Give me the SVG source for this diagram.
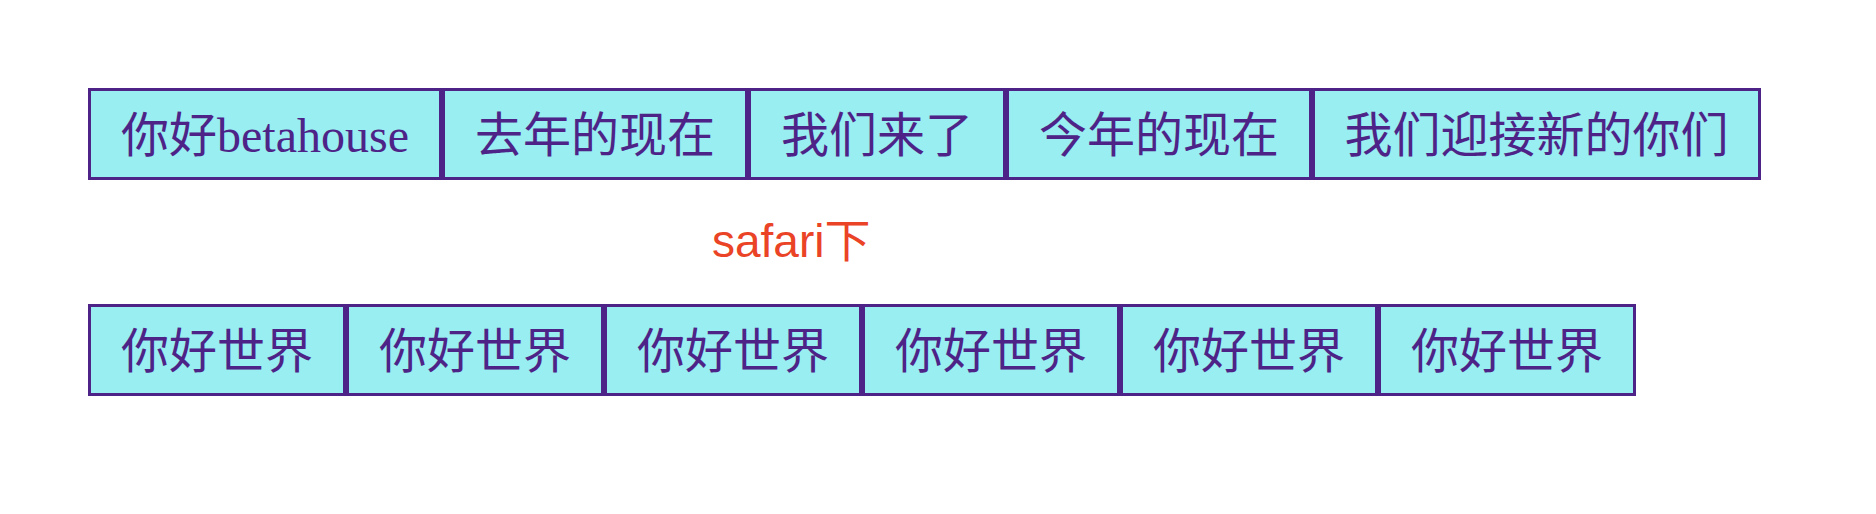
<svg xmlns="http://www.w3.org/2000/svg" width="1876" height="514" viewBox="0 0 1876 514">
<style>
.box{fill:#98eef0;stroke:#4e2387;stroke-width:3}
.t{font-family:"Liberation Serif","Noto Sans CJK SC",serif;font-size:48px;fill:#4e2387;text-anchor:middle}
.note{font-family:"Liberation Sans","Noto Sans CJK SC",sans-serif;font-size:46px;fill:#ea4326}
</style>
<rect width="1876" height="514" fill="#ffffff"/>
<g id="row1">
<g id="n1"><rect class="box" x="89.5" y="89.5" width="351" height="89"/><text class="t" x="265" y="152">你好betahouse</text></g>
<g id="n2"><rect class="box" x="443.5" y="89.5" width="303" height="89"/><text class="t" x="595" y="152">去年的现在</text></g>
<g id="n3"><rect class="box" x="749.5" y="89.5" width="255" height="89"/><text class="t" x="877" y="152">我们来了</text></g>
<g id="n4"><rect class="box" x="1007.5" y="89.5" width="303" height="89"/><text class="t" x="1159" y="152">今年的现在</text></g>
<g id="n5"><rect class="box" x="1313.5" y="89.5" width="446" height="89"/><text class="t" x="1536.5" y="152">我们迎接新的你们</text></g>
</g>
<g id="label"><text class="note" x="712" y="257">safari下</text></g>
<g id="row2">
<g id="m1"><rect class="box" x="89.5" y="305.5" width="255" height="89"/><text class="t" x="217" y="368">你好世界</text></g>
<g id="m2"><rect class="box" x="347.5" y="305.5" width="255" height="89"/><text class="t" x="475" y="368">你好世界</text></g>
<g id="m3"><rect class="box" x="605.5" y="305.5" width="255" height="89"/><text class="t" x="733" y="368">你好世界</text></g>
<g id="m4"><rect class="box" x="863.5" y="305.5" width="255" height="89"/><text class="t" x="991" y="368">你好世界</text></g>
<g id="m5"><rect class="box" x="1121.5" y="305.5" width="255" height="89"/><text class="t" x="1249" y="368">你好世界</text></g>
<g id="m6"><rect class="box" x="1379.5" y="305.5" width="255" height="89"/><text class="t" x="1507" y="368">你好世界</text></g>
</g>
<g id="connectors"/>
</svg>
